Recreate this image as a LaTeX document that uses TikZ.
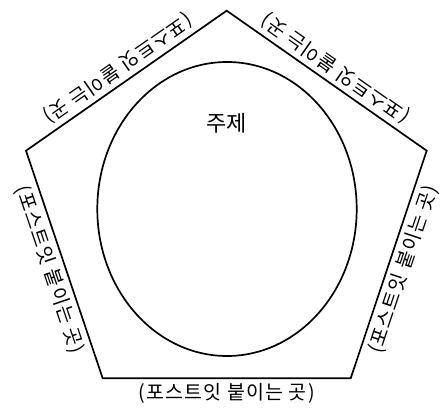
\documentclass[tikz,border=0pt]{standalone}
\usepackage{fontspec}
\setmainfont{Noto Sans CJK KR}
\newfontfamily\labelfont[LetterSpace=6]{Noto Sans CJK KR}
\usetikzlibrary{calc}
\tikzset{
  shape line/.style={draw=black, line width=1.7pt, line join=miter},
  edgelabel/.style={font=\labelfont\fontsize{19.5}{19.5}\selectfont, inner sep=0pt, anchor=center},
  titlelabel/.style={font=\fontsize{22}{22}\selectfont, inner sep=0pt}
}
\begin{document}
\begin{tikzpicture}[x=1pt,y=1pt]
\useasboundingbox (0,0) rectangle (441,409);
\coordinate (T) at (226.7,398.3);
\coordinate (R) at (426.7,258.3);
\coordinate (BR) at (350.7,30.7);
\coordinate (BL) at (102.7,30.7);
\coordinate (L) at (26,258.3);
\draw[shape line] (T) -- (R) -- (BR) -- (BL) -- (L) -- cycle;
\draw[shape line] (227,200) ellipse [x radius=129.7, y radius=147];
\node[titlelabel] (title) at (226.7,285.7) {주제};
\foreach \a/\b/\r [count=\i] in {BL/BR/0, BR/R/71.5, R/T/145, T/L/214.9, L/BL/288.6}{
  \coordinate (m\i) at ($(\a)!0.5!(\b)$);
  \node[edgelabel, rotate=\r] (lab\i) at ($(m\i)!15.5pt!-90:(\b)$) {(포스트잇 붙이는 곳)};
}
\end{tikzpicture}
\end{document}
